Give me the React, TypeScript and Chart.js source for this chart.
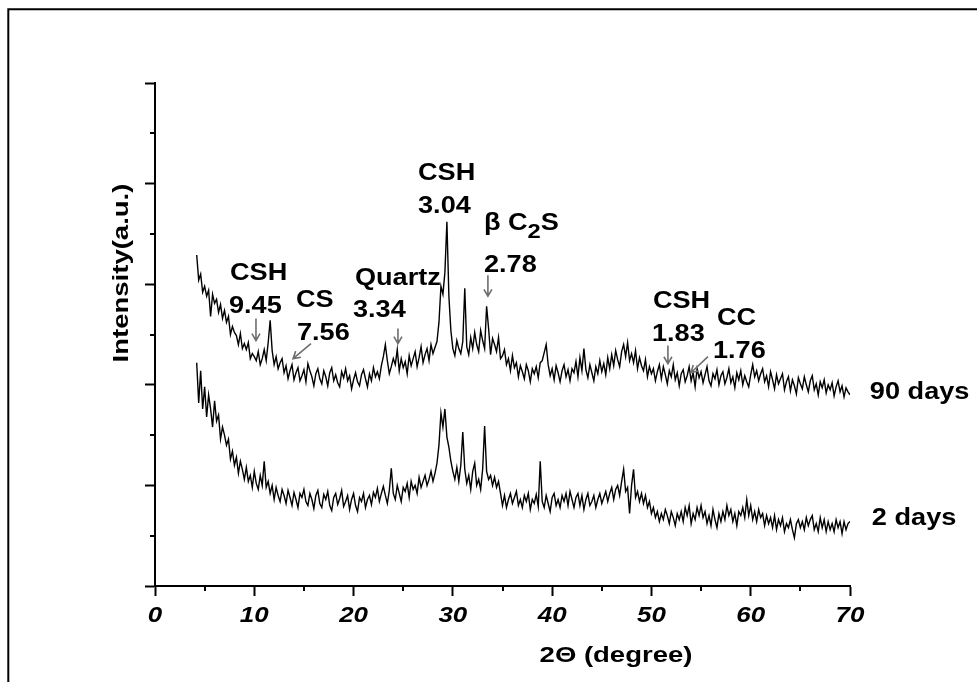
import React, { useEffect, useRef } from "react";
import { Chart, registerables } from "chart.js";

Chart.register(...registerables);

// 2-theta sampling (degrees)
const twoTheta = [
  4.2, 4.4, 4.6, 4.8, 5.0, 5.2, 5.4, 5.6, 5.8, 6.0,
  6.2, 6.4, 6.6, 6.8, 7.0, 7.2, 7.4, 7.6, 7.8, 8.0,
  8.2, 8.4, 8.6, 8.8, 9.0, 9.2, 9.4, 9.6, 9.8, 10.0,
  10.2, 10.4, 10.6, 10.8, 11.0, 11.2, 11.4, 11.6, 11.8, 12.0,
  12.2, 12.4, 12.6, 12.8, 13.0, 13.2, 13.4, 13.6, 13.8, 14.0,
  14.2, 14.4, 14.6, 14.8, 15.0, 15.2, 15.4, 15.6, 15.8, 16.0,
  16.2, 16.4, 16.6, 16.8, 17.0, 17.2, 17.4, 17.6, 17.8, 18.0,
  18.2, 18.4, 18.6, 18.8, 19.0, 19.2, 19.4, 19.6, 19.8, 20.0,
  20.2, 20.4, 20.6, 20.8, 21.0, 21.2, 21.4, 21.6, 21.8, 22.0,
  22.2, 22.4, 22.6, 22.8, 23.0, 23.2, 23.4, 23.6, 23.8, 24.0,
  24.2, 24.4, 24.6, 24.8, 25.0, 25.2, 25.4, 25.6, 25.8, 26.0,
  26.2, 26.4, 26.6, 26.8, 27.0, 27.2, 27.4, 27.6, 27.8, 28.0,
  28.2, 28.4, 28.6, 28.8, 29.0, 29.2, 29.4, 29.6, 29.8, 30.0,
  30.2, 30.4, 30.6, 30.8, 31.0, 31.2, 31.4, 31.6, 31.8, 32.0,
  32.2, 32.4, 32.6, 32.8, 33.0, 33.2, 33.4, 33.6, 33.8, 34.0,
  34.2, 34.4, 34.6, 34.8, 35.0, 35.2, 35.4, 35.6, 35.8, 36.0,
  36.2, 36.4, 36.6, 36.8, 37.0, 37.2, 37.4, 37.6, 37.8, 38.0,
  38.2, 38.4, 38.6, 38.8, 39.0, 39.2, 39.4, 39.6, 39.8, 40.0,
  40.2, 40.4, 40.6, 40.8, 41.0, 41.2, 41.4, 41.6, 41.8, 42.0,
  42.2, 42.4, 42.6, 42.8, 43.0, 43.2, 43.4, 43.6, 43.8, 44.0,
  44.2, 44.4, 44.6, 44.8, 45.0, 45.2, 45.4, 45.6, 45.8, 46.0,
  46.2, 46.4, 46.6, 46.8, 47.0, 47.2, 47.4, 47.6, 47.8, 48.0,
  48.2, 48.4, 48.6, 48.8, 49.0, 49.2, 49.4, 49.6, 49.8, 50.0,
  50.2, 50.4, 50.6, 50.8, 51.0, 51.2, 51.4, 51.6, 51.8, 52.0,
  52.2, 52.4, 52.6, 52.8, 53.0, 53.2, 53.4, 53.6, 53.8, 54.0,
  54.2, 54.4, 54.6, 54.8, 55.0, 55.2, 55.4, 55.6, 55.8, 56.0,
  56.2, 56.4, 56.6, 56.8, 57.0, 57.2, 57.4, 57.6, 57.8, 58.0,
  58.2, 58.4, 58.6, 58.8, 59.0, 59.2, 59.4, 59.6, 59.8, 60.0,
  60.2, 60.4, 60.6, 60.8, 61.0, 61.2, 61.4, 61.6, 61.8, 62.0,
  62.2, 62.4, 62.6, 62.8, 63.0, 63.2, 63.4, 63.6, 63.8, 64.0,
  64.2, 64.4, 64.6, 64.8, 65.0, 65.2, 65.4, 65.6, 65.8, 66.0,
  66.2, 66.4, 66.6, 66.8, 67.0, 67.2, 67.4, 67.6, 67.8, 68.0,
  68.2, 68.4, 68.6, 68.8, 69.0, 69.2, 69.4, 69.6, 69.8, 70.0,
];

// 90 days pattern (a.u., offset trace)
const intensity90Days = [
  329, 304, 310, 292, 298, 288, 294, 268, 290, 281,
  285, 272, 280, 266, 274, 262, 268, 250, 258, 252,
  249, 240, 251, 236, 241, 235, 242, 226, 231, 228,
  224, 233, 220, 226, 235, 224, 242, 264, 234, 220,
  228, 216, 222, 226, 212, 219, 206, 214, 220, 205,
  212, 217, 204, 209, 215, 203, 221, 214, 208, 199,
  211, 216, 206, 201, 214, 208, 199, 212, 217, 204,
  210, 202, 198, 213, 207, 216, 204, 209, 196, 205,
  212, 203, 199, 210, 215, 206, 198, 211, 204, 217,
  208, 213, 206, 219, 228, 240, 224, 211, 218, 226,
  220, 235, 214, 226, 217, 223, 211, 229, 219, 226,
  233, 218, 227, 238, 222, 230, 236, 224, 240, 231,
  237, 243, 262, 298, 290, 312, 362, 288, 254, 236,
  229, 244, 236, 231, 243, 296, 238, 230, 247, 236,
  252, 240, 233, 254, 244, 236, 278, 256, 230, 246,
  240, 233, 247, 226, 229, 235, 220, 226, 214, 229,
  217, 222, 208, 219, 213, 206, 220, 214, 203, 216,
  211, 218, 207, 222, 224, 232, 240, 220, 209, 216,
  205, 219, 212, 203, 214, 220, 208, 215, 204, 216,
  212, 223, 208, 227, 214, 236, 215, 207, 220, 212,
  204, 218, 211, 224, 213, 221, 210, 227, 216, 230,
  219, 234, 225, 218, 233, 240, 228, 242, 224, 231,
  222, 234, 216, 227, 219, 214, 225, 208, 218, 211,
  216, 204, 213, 220, 206, 218, 210, 201, 214, 208,
  220, 205, 212, 199, 211, 215, 203, 209, 218, 204,
  212, 198, 216, 207, 213, 202, 210, 218, 204, 199,
  211, 206, 215, 200, 209, 213, 201, 207, 216, 202,
  208, 197, 212, 205, 214, 200, 209, 203, 198, 210,
  220, 208, 214, 204, 211, 216, 203, 209, 198, 213,
  205, 196, 210, 201, 206, 211, 195, 203, 208, 194,
  205, 199, 191, 207, 201, 196, 208, 200, 193, 204,
  209, 195, 201, 190, 203, 197, 205, 192, 200, 195,
  202, 189, 198, 204, 193, 199, 188, 197, 193, 190,
];

// 2 days pattern (a.u.)
const intensity2Days = [
  222, 182, 214, 176, 198, 168, 190, 176, 158, 184,
  164, 170, 146, 158, 150, 140, 146, 126, 134, 120,
  128, 112, 124, 116, 106, 118, 104, 110, 98, 114,
  102, 96, 110, 100, 124, 98, 104, 92, 100, 86,
  98, 90, 84, 96, 90, 82, 95, 88, 80, 93,
  86, 78, 92, 88, 96, 84, 80, 92, 86, 77,
  90, 95, 82, 78, 91, 86, 94, 80, 75, 88,
  92, 81, 87, 95, 79, 84, 90, 76, 86, 92,
  80, 74, 88, 84, 92, 78, 86, 90, 81, 93,
  88, 97, 84, 92, 99, 90, 82, 95, 117, 92,
  86, 100, 92, 84, 98, 94, 102, 88, 104, 96,
  100, 92, 108, 98, 104, 110, 100, 106, 114, 104,
  112, 122, 140, 172, 158, 176, 148, 138, 124, 114,
  106, 118, 104, 120, 153, 116, 102, 110, 96, 114,
  122, 100, 106, 96, 116, 159, 114, 106, 110, 100,
  108, 98, 104, 92, 80, 90, 78, 86, 92, 82,
  88, 94, 80, 86, 78, 90, 84, 92, 76, 86,
  82, 91, 79, 124, 84, 78, 90, 82, 74, 88,
  92, 80, 86, 78, 90, 84, 92, 80, 94, 86,
  78, 88, 92, 80, 90, 76, 86, 92, 80, 84,
  90, 78, 86, 92, 82, 88, 94, 84, 92, 98,
  86, 96, 100, 90, 104, 116, 94, 98, 72, 100,
  116, 88, 94, 84, 92, 82, 90, 78, 84, 72,
  78, 68, 74, 64, 72, 66, 76, 70, 62, 74,
  68, 60, 72, 66, 74, 64, 78, 70, 80, 62,
  72, 66, 78, 70, 80, 68, 74, 62, 70, 60,
  76, 66, 58, 72, 64, 74, 66, 80, 70, 76,
  64, 72, 60, 74, 70, 78, 68, 86, 70, 80,
  66, 74, 64, 76, 68, 72, 60, 70, 62, 68,
  58, 70, 56, 66, 60, 68, 54, 62, 58, 66,
  56, 48, 62, 66, 58, 64, 56, 68, 60, 66,
  70, 56, 62, 54, 68, 58, 66, 54, 64, 56,
  62, 54, 66, 58, 64, 52, 64, 56, 62, 64,
];

const xMinorTicks = [5, 15, 25, 35, 45, 55, 65];
const yMinorTicks = [50, 150, 250, 350, 450];

// peak annotations, anchored in data coordinates (left, baseline)
const peakNames = ["CSH", "CS", "Quartz", "CSH", "β C|2|S", "CSH", "CC"];
const peakSpacings = ["9.45", "7.56", "3.34", "3.04", "2.78", "1.83", "1.76"];
const nameAnchors = [
  [7.55, 304], [14.2, 277], [20.14, 299], [26.49, 404], [33.13, 354], [50.15, 276], [56.6, 259],
];
const spacingAnchors = [
  [7.45, 271], [14.3, 245], [19.94, 267], [26.49, 371], [33.13, 312], [50.05, 244], [56.2, 227],
];
// arrows: [x1, y1, x2, y2] (head at the second point)
const arrows = [
  [10.17, 266, 10.17, 244],
  [15.71, 241, 13.9, 226],
  [24.47, 256, 24.47, 241],
  [33.53, 309, 33.53, 288],
  [51.66, 239, 51.66, 221],
  [55.69, 228, 53.98, 212],
];
const seriesNames = ["90 days", "2 days"];
const seriesLabelAnchors = [[72.0, 186], [72.2, 60.6]];

const FAMILY = '"Liberation Sans", Arial, sans-serif';

function stretchText(ctx, text, x, y, font, sx, align = "left") {
  ctx.save();
  ctx.font = font;
  ctx.translate(x, y);
  ctx.scale(sx, 1);
  ctx.textAlign = align;
  ctx.textBaseline = "alphabetic";
  ctx.fillText(text, 0, 0);
  ctx.restore();
}

const decorPlugin = {
  id: "decor",
  beforeDraw(chart) {
    const { ctx, width, height } = chart;
    ctx.save();
    ctx.fillStyle = "#ffffff";
    ctx.fillRect(0, 0, width, height);
    ctx.strokeStyle = "#000";
    ctx.lineWidth = 2;
    ctx.beginPath();
    ctx.moveTo(8.3, height);
    ctx.lineTo(8.3, 9.2);
    ctx.lineTo(width, 9.2);
    ctx.stroke();
    ctx.restore();
  },
  afterDraw(chart) {
    const { ctx, chartArea } = chart;
    const xs = chart.scales.x;
    const ys = chart.scales.y;
    ctx.save();
    ctx.strokeStyle = "#000";
    ctx.lineWidth = 2;
    // minor ticks
    for (const v of xMinorTicks) {
      const px = Math.round(xs.getPixelForValue(v));
      ctx.beginPath();
      ctx.moveTo(px, chartArea.bottom);
      ctx.lineTo(px, chartArea.bottom + 5);
      ctx.stroke();
    }
    for (const v of yMinorTicks) {
      const py = Math.round(ys.getPixelForValue(v));
      ctx.beginPath();
      ctx.moveTo(chartArea.left - 5, py);
      ctx.lineTo(chartArea.left, py);
      ctx.stroke();
    }
    ctx.fillStyle = "#000";
    // x tick labels
    for (const t of xs.ticks) {
      const px = xs.getPixelForValue(t.value);
      stretchText(ctx, String(t.value), px, chartArea.bottom + 36, `italic bold 22px ${FAMILY}`, 1.18, "center");
    }
    // axis titles
    stretchText(ctx, "2Θ (degree)", 616, 662, `bold 22px ${FAMILY}`, 1.25, "center");
    ctx.save();
    ctx.translate(128, 273);
    ctx.rotate(-Math.PI / 2);
    ctx.scale(1.25, 1);
    ctx.font = `bold 22px ${FAMILY}`;
    ctx.textAlign = "center";
    ctx.textBaseline = "alphabetic";
    ctx.fillText("Intensity(a.u.)", 0, 0);
    ctx.restore();

    // peak labels
    const annFont = `bold 24px ${FAMILY}`;
    const sx = 1.13;
    peakNames.forEach((name, i) => {
      const px = xs.getPixelForValue(nameAnchors[i][0]);
      const py = ys.getPixelForValue(nameAnchors[i][1]);
      if (name.includes("|")) {
        const parts = name.split("|");
        ctx.save();
        ctx.translate(px, py);
        ctx.scale(sx, 1);
        ctx.textBaseline = "alphabetic";
        ctx.textAlign = "left";
        ctx.font = annFont;
        let cx = 0;
        ctx.fillText(parts[0], cx, 0);
        cx += ctx.measureText(parts[0]).width;
        ctx.font = `bold 21px ${FAMILY}`;
        ctx.fillText(parts[1], cx, 8);
        cx += ctx.measureText(parts[1]).width;
        ctx.font = annFont;
        ctx.fillText(parts[2], cx, 0);
        ctx.restore();
      } else {
        stretchText(ctx, name, px, py, annFont, sx);
      }
      const qx = xs.getPixelForValue(spacingAnchors[i][0]);
      const qy = ys.getPixelForValue(spacingAnchors[i][1]);
      stretchText(ctx, peakSpacings[i], qx, qy, annFont, sx);
    });

    // arrows
    ctx.strokeStyle = "#6e6e6e";
    ctx.lineWidth = 1.6;
    for (const [a, b, c, d] of arrows) {
      const x1 = xs.getPixelForValue(a);
      const y1 = ys.getPixelForValue(b);
      const x2 = xs.getPixelForValue(c);
      const y2 = ys.getPixelForValue(d);
      const ang = Math.atan2(y2 - y1, x2 - x1);
      const hl = 8;
      ctx.beginPath();
      ctx.moveTo(x1, y1);
      ctx.lineTo(x2, y2);
      ctx.moveTo(x2 - hl * Math.cos(ang - Math.PI / 6), y2 - hl * Math.sin(ang - Math.PI / 6));
      ctx.lineTo(x2, y2);
      ctx.lineTo(x2 - hl * Math.cos(ang + Math.PI / 6), y2 - hl * Math.sin(ang + Math.PI / 6));
      ctx.stroke();
    }

    // series labels
    seriesNames.forEach((n, i) => {
      const px = xs.getPixelForValue(seriesLabelAnchors[i][0]);
      const py = ys.getPixelForValue(seriesLabelAnchors[i][1]);
      stretchText(ctx, n, px, py, `bold 23px ${FAMILY}`, 1.18);
    });
    ctx.restore();
  },
};

export default function App() {
  const canvasRef = useRef(null);
  useEffect(() => {
    const canvas = canvasRef.current;
    if (!canvas) return;
    const chart = new Chart(canvas, {
      type: "line",
      data: {
        datasets: [
          {
            label: seriesNames[0],
            data: twoTheta.map((x, i) => ({ x, y: intensity90Days[i] })),
            borderColor: "#000",
            borderWidth: 1.4,
            pointRadius: 0,
            tension: 0,
            fill: false,
          },
          {
            label: seriesNames[1],
            data: twoTheta.map((x, i) => ({ x, y: intensity2Days[i] })),
            borderColor: "#000",
            borderWidth: 1.4,
            pointRadius: 0,
            tension: 0,
            fill: false,
          },
        ],
      },
      options: {
        responsive: false,
        animation: false,
        devicePixelRatio: 1,
        layout: { padding: { left: 145, right: 127, top: 83, bottom: 86 } },
        plugins: { legend: { display: false }, tooltip: { enabled: false } },
        scales: {
          x: {
            type: "linear",
            min: 0,
            max: 70,
            ticks: { stepSize: 10, display: false },
            grid: { drawOnChartArea: false, drawTicks: true, tickLength: 10, tickWidth: 2, tickColor: "#000" },
            border: { display: true, color: "#000", width: 2 },
          },
          y: {
            type: "linear",
            min: 0,
            max: 500,
            ticks: { stepSize: 100, display: false },
            grid: { drawOnChartArea: false, drawTicks: true, tickLength: 10, tickWidth: 2, tickColor: "#000" },
            border: { display: true, color: "#000", width: 2 },
          },
        },
      },
      plugins: [decorPlugin],
    });
    return () => chart.destroy();
  }, []);
  return (
    <div style={{ position: "fixed", left: 0, top: 0, width: 977, height: 682, background: "#fff" }}>
      <canvas ref={canvasRef} width={977} height={682} style={{ width: 977, height: 682, display: "block" }} />
    </div>
  );
}
